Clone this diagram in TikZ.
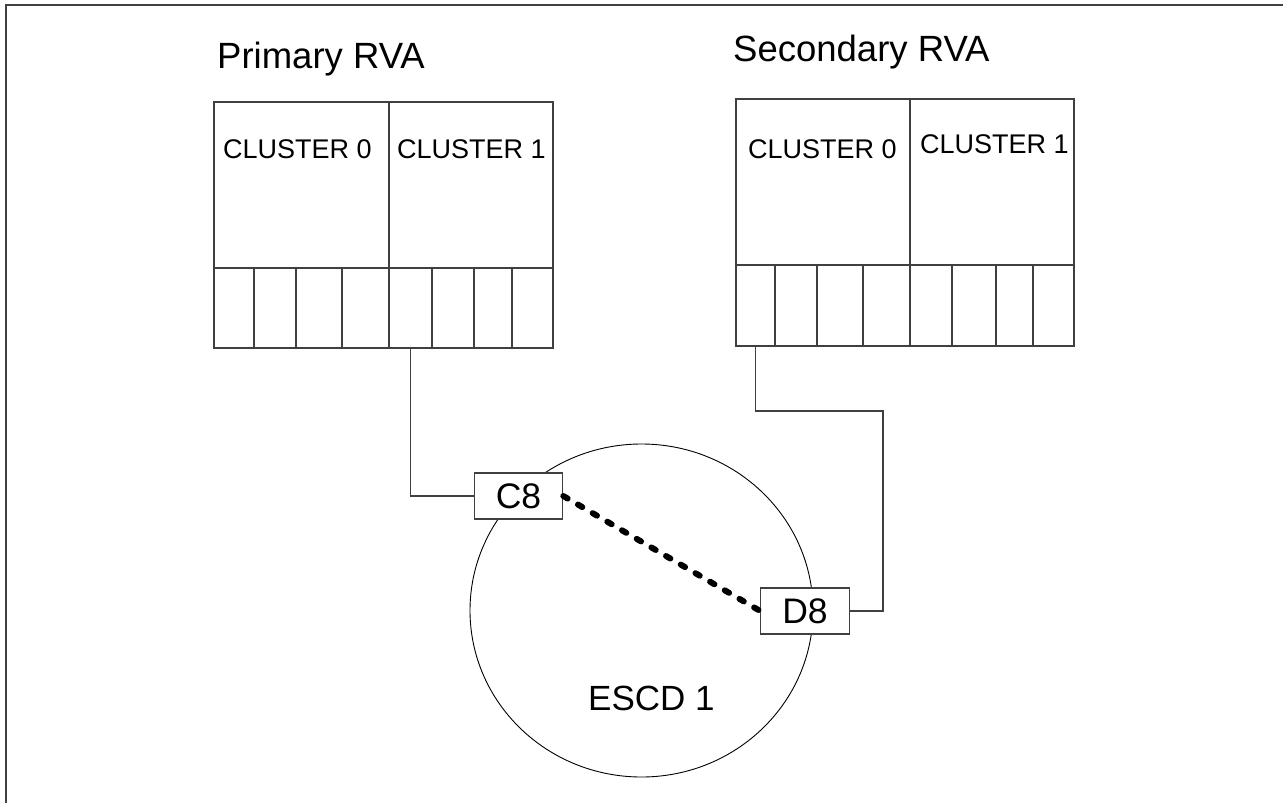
\documentclass[tikz,border=0pt]{standalone}
\usepackage{fontspec}
\setmainfont{Liberation Sans}
\usetikzlibrary{shapes.geometric}
\begin{document}
\begin{tikzpicture}[x=1pt,y=-1pt,
  ln/.style={draw=black!75,line width=1.1pt},
  cell/.style={ln,rectangle,anchor=north west,inner sep=0pt,outer sep=0pt,minimum height=#1},
  lbl/.style={anchor=base west,inner sep=0pt,font=\fontsize{27}{30}\selectfont},
  ttl/.style={anchor=base west,inner sep=0pt,font=\fontsize{36.5}{40}\selectfont},
  port/.style={ln,fill=white,rectangle,inner sep=0pt,minimum width=88.5pt,minimum height=46pt,font=\fontsize{35.5}{40}\selectfont},
  conn/.style={draw=black!75,line width=1.1pt},
  link/.style={line width=6pt,line cap=round,dash pattern=on 5pt off 12pt}]
\useasboundingbox (0,0) rectangle (1283,803);
% frame
\draw[draw=black!75,line width=1.6pt] (6,803) -- (6,5) -- (1283,5);
% titles
\node[ttl] (tp) at (217,68) {Primary RVA};
\node[ttl] (ts) at (733,61) {Secondary RVA};
% primary RVA
\node[cell=166pt,minimum width=175pt] (pc0) at (214,102) {};
\node[cell=166pt,minimum width=164pt] (pc1) at (389,102) {};
\node[lbl] at (223,158) {CLUSTER 0};
\node[lbl] at (397,158) {CLUSTER 1};
\foreach \n/\a/\b in {1/214/254,2/254/296,3/296/342,4/342/389,5/389/432,6/432/474,7/474/512,8/512/553}{
  \pgfmathsetmacro\w{\b-\a}
  \node[cell=80pt,minimum width=\w pt] (p\n) at (\a,268) {};
}
% secondary RVA
\node[cell=166pt,minimum width=174pt] (sc0) at (736,99) {};
\node[cell=166pt,minimum width=164pt] (sc1) at (910,99) {};
\node[lbl] at (748,158) {CLUSTER 0};
\node[lbl] at (920,153) {CLUSTER 1};
\foreach \n/\a/\b in {1/736/775,2/775/817,3/817/863,4/863/910,5/910/952,6/952/996,7/996/1033,8/1033/1074}{
  \pgfmathsetmacro\w{\b-\a}
  \node[cell=81pt,minimum width=\w pt] (s\n) at (\a,265) {};
}
% ESCD
\node[ellipse,draw=black,line width=0.9pt,minimum width=343pt,minimum height=333pt,inner sep=0pt] (escd) at (641.5,610.5) {};
\node[anchor=base west,inner sep=0pt,font=\fontsize{35}{40}\selectfont] (escdl) at (588,710) {ESCD 1};
\node[port] (c8) at (518.5,496) {C8};
\node[port] (d8) at (805,611) {D8};
\coordinate (bend) at (883,411);
% connectors
\draw[conn] (p5.south) |- (c8.west);
\draw[conn] (s1.south) |- (bend) |- (d8.east);
\draw[link] (c8.east) -- (d8.west);
\end{tikzpicture}
\end{document}
